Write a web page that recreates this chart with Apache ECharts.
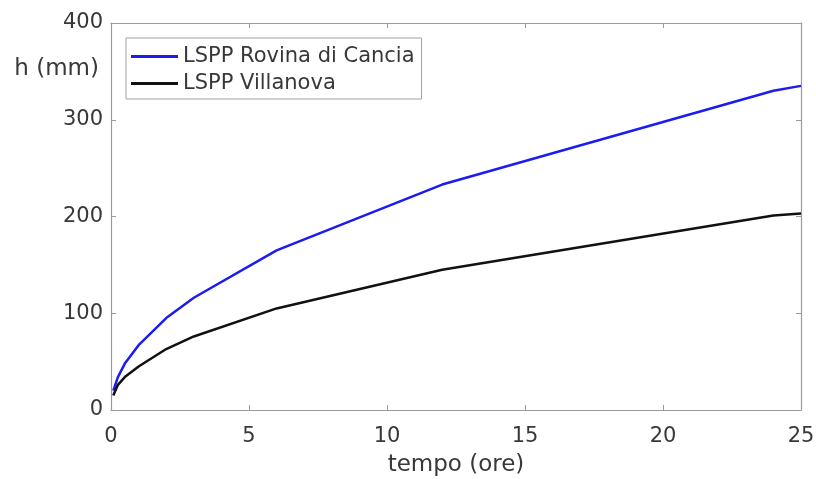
<!DOCTYPE html>
<html>
<head>
<meta charset="utf-8">
<script src="https://cdn.jsdelivr.net/npm/echarts@6/dist/echarts.min.js"></script>
<style>
  html, body { margin: 0; padding: 0; background: #fff; }
  #chart { width: 816px; height: 479px; }
</style>
</head>
<body>
<div id="chart"></div>
<script>
// durate (ore) e altezze di pioggia (mm)
const tempo = [0.083, 0.25, 0.5, 1, 2, 3, 6, 12, 24, 25]
const rovina = [20, 34, 48, 67, 95, 116, 165, 233, 330, 335]
const villanova = [15, 26, 34, 45, 63, 76, 105, 145, 201, 203]
const xTicks = [0, 5, 10, 15, 20, 25]
const yTicks = [0, 100, 200, 300, 400]

const font = 'DejaVu Sans, Verdana, sans-serif'
const axisColor = '#9a9a9a'
const textColor = '#383838'

const chart = echarts.init(document.getElementById('chart'))

function pairs(xs, ys) {
  return xs.map((x, i) => [x, ys[i]])
}

// assi a scatola, tacche verso l'interno
const boxAxis = {
  axisLine: { show: true, onZero: false, lineStyle: { color: axisColor, width: 1.2 } },
  axisTick: { show: true, inside: true, length: 5, lineStyle: { color: axisColor } },
  splitLine: { show: false }
}

chart.setOption({
  animation: false,
  backgroundColor: '#fff',
  grid: { left: 111, right: 15, top: 23, bottom: 69, outerBoundsMode: 'none', containLabel: false },
  legend: {
    orient: 'vertical',
    left: 126,
    top: 38,
    icon: 'rect',
    itemWidth: 47,
    itemHeight: 3,
    itemGap: 6,
    padding: [8, 7, 5, 5],
    backgroundColor: '#fff',
    borderColor: '#a0a0a0',
    borderWidth: 1,
    borderRadius: 0,
    textStyle: { fontFamily: font, fontSize: 21, color: textColor },
    data: ['LSPP Rovina di Cancia', 'LSPP Villanova']
  },
  xAxis: [
    Object.assign({}, boxAxis, {
      type: 'value',
      min: xTicks[0],
      max: xTicks[xTicks.length - 1],
      interval: 5,
      name: 'tempo (ore)',
      nameLocation: 'middle',
      nameGap: 44,
      nameTextStyle: { fontFamily: font, fontSize: 23, color: textColor },
      axisLabel: { fontFamily: font, fontSize: 21, color: textColor, margin: 16 }
    }),
    Object.assign({}, boxAxis, {
      type: 'value',
      position: 'top',
      min: xTicks[0],
      max: xTicks[xTicks.length - 1],
      interval: 5,
      axisLabel: { show: false }
    })
  ],
  yAxis: [
    Object.assign({}, boxAxis, {
      type: 'value',
      min: yTicks[0],
      max: yTicks[yTicks.length - 1],
      interval: 100,
      name: 'h (mm)',
      nameLocation: 'end',
      nameGap: -58,
      nameTextStyle: { fontFamily: font, fontSize: 23, color: textColor, align: 'right', padding: [0, 12, 0, 0] },
      axisLabel: { fontFamily: font, fontSize: 21, color: textColor, margin: 8 }
    }),
    Object.assign({}, boxAxis, {
      type: 'value',
      position: 'right',
      min: yTicks[0],
      max: yTicks[yTicks.length - 1],
      interval: 100,
      axisLabel: { show: false }
    })
  ],
  series: [
    {
      name: 'LSPP Rovina di Cancia',
      type: 'line',
      data: pairs(tempo, rovina),
      symbol: 'none',
      color: '#1c1cf0',
      lineStyle: { width: 2.5, color: '#1c1cf0' }
    },
    {
      name: 'LSPP Villanova',
      type: 'line',
      data: pairs(tempo, villanova),
      symbol: 'none',
      color: '#111',
      lineStyle: { width: 2.5, color: '#111' }
    }
  ]
})
</script>
</body>
</html>
